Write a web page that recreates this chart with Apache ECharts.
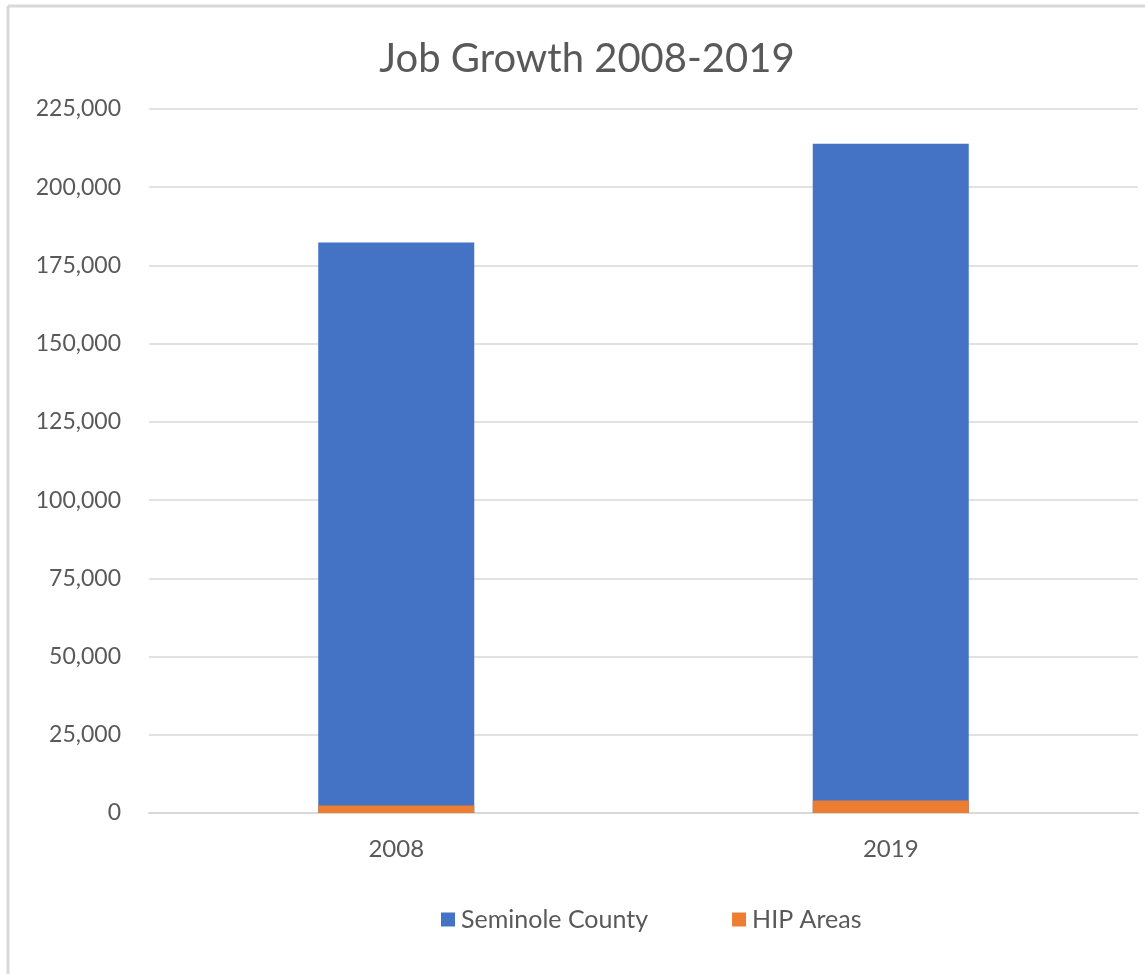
<!DOCTYPE html>
<html>
<head>
<meta charset="utf-8">
<script src="https://cdn.jsdelivr.net/npm/echarts@6/dist/echarts.min.js"></script>
<style>
html,body{margin:0;padding:0;background:#fff;}
#chart{width:1145px;height:974px;}
</style>
</head>
<body>
<div id="chart"></div>
<script>
const categories = ['2008', '2019'];
const seminoleCounty = [182300, 213900];
const hipAreas = [2400, 4000];
const seriesNames = ['Seminole County', 'HIP Areas'];

const FONT = 'Lato, "Open Sans", sans-serif';
const chart = echarts.init(document.getElementById('chart'), null, {renderer: 'canvas'});
chart.setOption({
  animation: false,
  backgroundColor: '#ffffff',
  title: {
    text: 'Job Growth 2008-2019',
    left: 582, top: 34, textAlign: 'center',
    textStyle: {fontFamily: FONT, fontSize: 40, fontWeight: 'normal', color: '#595959'}
  },
  legend: {
    data: seriesNames,
    top: 902, left: 436,
    itemWidth: 14, itemHeight: 14, itemGap: 84,
    icon: 'rect',
    textStyle: {fontFamily: FONT, fontSize: 25, color: '#595959', padding: [0, 0, 0, 1]}
  },
  grid: {left: 149, right: 7, top: 109, bottom: 974 - 813, containLabel: false},
  xAxis: {
    type: 'category', data: categories,
    axisLine: {lineStyle: {color: '#d9d9d9', width: 2}},
    axisTick: {show: false},
    axisLabel: {fontFamily: FONT, fontSize: 24, color: '#595959', margin: 24}
  },
  yAxis: {
    type: 'value', min: 0, max: 225000, interval: 25000,
    axisLine: {show: false}, axisTick: {show: false},
    splitLine: {lineStyle: {color: '#d9d9d9', width: 1.5}},
    axisLabel: {
      fontFamily: FONT, fontSize: 23, color: '#595959', margin: 28,
      formatter: v => v.toLocaleString('en-US')
    }
  },
  graphic: [
    {type: 'line', shape: {x1: 8, y1: 6, x2: 8, y2: 974}, style: {stroke: '#d9d9d9', lineWidth: 3}},
    {type: 'line', shape: {x1: 8, y1: 6, x2: 1145, y2: 6}, style: {stroke: '#d9d9d9', lineWidth: 3}}
  ],
  series: [
    {name: seriesNames[0], type: 'bar', data: seminoleCounty, barWidth: 156,
     itemStyle: {color: '#4472c4'}, barGap: '-100%'},
    {name: seriesNames[1], type: 'bar', data: hipAreas, barWidth: 156,
     itemStyle: {color: '#ed7d31'}, barGap: '-100%'}
  ]
});
</script>
</body>
</html>
